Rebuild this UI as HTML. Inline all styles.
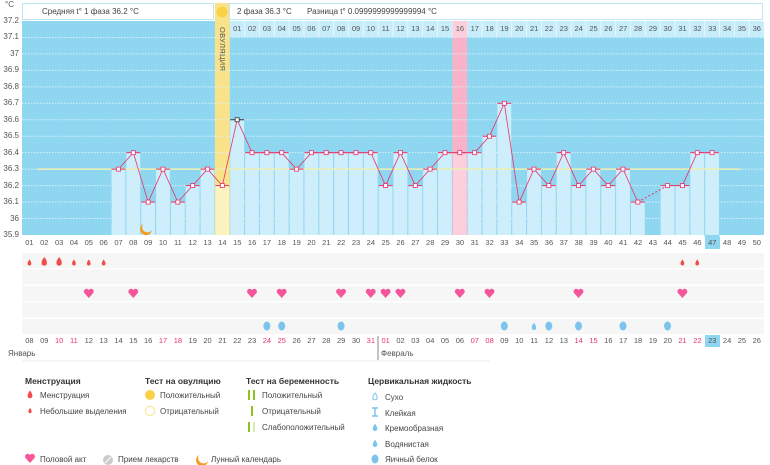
<!DOCTYPE html>
<html><head><meta charset="utf-8"><style>
*{margin:0;padding:0;box-sizing:border-box}
body{width:770px;height:465px;background:#fff;font-family:"Liberation Sans","DejaVu Sans",sans-serif;font-size:8px;color:#444;position:relative;overflow:hidden}
.a{position:absolute;white-space:nowrap}
.row{position:absolute;left:22px;width:742px;display:flex;height:12px;line-height:12px}
.row span{flex:1;text-align:center;font-size:7.5px;color:#555}
.r{color:#e8336b!important}
.hl{background:#8fd6f0}
.yl{position:absolute;left:0;width:19px;text-align:right;font-size:8px;color:#555;line-height:10px}
h4{position:absolute;font-size:8.5px;font-weight:bold;color:#333}
</style></head><body>
<svg id="s" width="770" height="465" style="position:absolute;left:0;top:0"></svg>
<div class="a" style="left:5px;top:0px;font-size:8px;color:#555">°C</div>
<div class="a" style="left:22px;top:3px;width:192px;height:17px;border:1px solid #bfe6f5;background:#fff"></div>
<div class="a" style="left:229px;top:3px;width:534px;height:17px;border:1px solid #bfe6f5;background:#fff"></div>
<div class="a" style="left:42px;top:7px;font-size:8px">Средняя t° 1 фаза 36.2 °C</div>
<div class="a" style="left:237px;top:7px;font-size:8px">2 фаза 36.3 °C</div>
<div class="a" style="left:307px;top:7px;font-size:8px">Разница t° 0.0999999999999994 °C</div>
<div class="a" style="left:216px;top:24px;width:14px;height:60px;"><div style="transform:rotate(90deg);transform-origin:0 0;position:absolute;left:11px;top:3px;font-size:7.5px;color:#555;letter-spacing:0.3px">ОВУЛЯЦИЯ</div></div>
<div class="yl" style="top:16px">37.2</div><div class="yl" style="top:32px">37.1</div><div class="yl" style="top:49px">37</div><div class="yl" style="top:65px">36.9</div><div class="yl" style="top:82px">36.8</div><div class="yl" style="top:98px">36.7</div><div class="yl" style="top:115px">36.6</div><div class="yl" style="top:131px">36.5</div><div class="yl" style="top:148px">36.4</div><div class="yl" style="top:164px">36.3</div><div class="yl" style="top:181px">36.2</div><div class="yl" style="top:197px">36.1</div><div class="yl" style="top:214px">36</div><div class="yl" style="top:230px">35.9</div>
<div class="row" style="top:23px"><span></span><span></span><span></span><span></span><span></span><span></span><span></span><span></span><span></span><span></span><span></span><span></span><span></span><span></span><span>01</span><span>02</span><span>03</span><span>04</span><span>05</span><span>06</span><span>07</span><span>08</span><span>09</span><span>10</span><span>11</span><span>12</span><span>13</span><span>14</span><span>15</span><span>16</span><span>17</span><span>18</span><span>19</span><span>20</span><span>21</span><span>22</span><span>23</span><span>24</span><span>25</span><span>26</span><span>27</span><span>28</span><span>29</span><span>30</span><span>31</span><span>32</span><span>33</span><span>34</span><span>35</span><span>36</span></div>
<div class="row" style="top:237px"><span>01</span><span>02</span><span>03</span><span>04</span><span>05</span><span>06</span><span>07</span><span>08</span><span>09</span><span>10</span><span>11</span><span>12</span><span>13</span><span>14</span><span>15</span><span>16</span><span>17</span><span>18</span><span>19</span><span>20</span><span>21</span><span>22</span><span>23</span><span>24</span><span>25</span><span>26</span><span>27</span><span>28</span><span>29</span><span>30</span><span>31</span><span>32</span><span>33</span><span>34</span><span>35</span><span>36</span><span>37</span><span>38</span><span>39</span><span>40</span><span>41</span><span>42</span><span>43</span><span>44</span><span>45</span><span>46</span><span class="hl">47</span><span>48</span><span>49</span><span>50</span></div>
<div class="row" style="top:335px"><span>08</span><span>09</span><span class="r">10</span><span class="r">11</span><span>12</span><span>13</span><span>14</span><span>15</span><span>16</span><span class="r">17</span><span class="r">18</span><span>19</span><span>20</span><span>21</span><span>22</span><span>23</span><span class="r">24</span><span class="r">25</span><span>26</span><span>27</span><span>28</span><span>29</span><span>30</span><span class="r">31</span><span class="r">01</span><span>02</span><span>03</span><span>04</span><span>05</span><span>06</span><span class="r">07</span><span class="r">08</span><span>09</span><span>10</span><span>11</span><span>12</span><span>13</span><span class="r">14</span><span class="r">15</span><span>16</span><span>17</span><span>18</span><span>19</span><span>20</span><span class="r">21</span><span class="r">22</span><span class="hl">23</span><span>24</span><span>25</span><span>26</span></div>
<div class="a" style="left:8px;top:349px;font-size:8px;color:#555">Январь</div>
<div class="a" style="left:381px;top:349px;font-size:8px;color:#555">Февраль</div>
<h4 style="left:25px;top:376px">Менструация</h4>
<h4 style="left:145px;top:376px">Тест на овуляцию</h4>
<h4 style="left:246px;top:376px">Тест на беременность</h4>
<h4 style="left:368px;top:376px">Цервикальная жидкость</h4>
<div class="a" style="left:40px;top:391px">Менструация</div>
<div class="a" style="left:40px;top:407px">Небольшие выделения</div>
<div class="a" style="left:160px;top:391px">Положительный</div>
<div class="a" style="left:160px;top:407px">Отрицательный</div>
<div class="a" style="left:262px;top:391px">Положительный</div>
<div class="a" style="left:262px;top:407px">Отрицательный</div>
<div class="a" style="left:262px;top:423px">Слабоположительный</div>
<div class="a" style="left:385px;top:393px">Сухо</div>
<div class="a" style="left:385px;top:409px">Клейкая</div>
<div class="a" style="left:385px;top:424px">Кремообразная</div>
<div class="a" style="left:385px;top:440px">Водянистая</div>
<div class="a" style="left:385px;top:455px">Яичный белок</div>
<div class="a" style="left:40px;top:455px">Половой акт</div>
<div class="a" style="left:118px;top:455px">Прием лекарств</div>
<div class="a" style="left:211px;top:455px">Лунный календарь</div>
<script>
var s=document.getElementById('s'),h='';
var W=742/50;function cx(i){return 22+(i-0.5)*W}
function y(t){return 21+(37.2-t)/0.1*16.46}
h+='<rect x="22" y="21" width="742" height="214" fill="#8fd6f0"/>';
h+='<rect x="'+(22+13*W)+'" y="3" width="'+W+'" height="232" fill="#f9e38a"/>';
h+='<rect x="'+(22+29*W)+'" y="21" width="'+W+'" height="214" fill="#f9b3c8"/>';
h+='<rect x="'+(22+14*W)+'" y="21" width="'+(36*W)+'" height="16" fill="#c7ecfa"/>';
for(var i=15;i<=50;i++)h+='<line x1="'+(22+i*W)+'" y1="21" x2="'+(22+i*W)+'" y2="37" stroke="#e6f6fd" stroke-width="1"/>';
h+='<rect x="'+(22+29*W)+'" y="21" width="'+W+'" height="16" fill="#fbd0dc"/>';
for(var k=1;k<13;k++){var yy=21+k*16.46;h+='<line x1="22" x2="764" y1="'+yy+'" y2="'+yy+'" stroke="#d8f1fb" stroke-dasharray="1.5,1.5" stroke-width="1"/>';}
var T={7:36.3,8:36.4,9:36.1,10:36.3,11:36.1,12:36.2,13:36.3,14:36.2,15:36.6,16:36.4,17:36.4,18:36.4,19:36.3,20:36.4,21:36.4,22:36.4,23:36.4,24:36.4,25:36.2,26:36.4,27:36.2,28:36.3,29:36.4,30:36.4,31:36.4,32:36.5,33:36.7,34:36.1,35:36.3,36:36.2,37:36.4,38:36.2,39:36.3,40:36.2,41:36.3,42:36.1,44:36.2,45:36.2,46:36.4,47:36.4};
for(var i in T){i=+i;var c=i==14?'#fdf3c0':'#cdeefa';if(i==30)c='#fbd0dc';h+='<rect x="'+(22+(i-1)*W+0.5)+'" y="'+y(T[i])+'" width="'+(W-1)+'" height="'+(235-y(T[i]))+'" fill="'+c+'"/>';}
h+='<line x1="37" x2="741" y1="'+y(36.3)+'" y2="'+y(36.3)+'" stroke="#eef0b0" stroke-width="1.5"/>';
h+='<line x1="'+cx(42)+'" y1="'+y(36.1)+'" x2="'+cx(44)+'" y2="'+y(36.2)+'" stroke="#e8336b" stroke-dasharray="2,2"/>';
var seg=[];for(var i=7;i<=42;i++)seg.push(cx(i)+','+y(T[i]));h+='<polyline points="'+seg.join(' ')+'" fill="none" stroke="#e8336b" stroke-width="0.8"/>';
seg=[];for(var i=44;i<=47;i++)seg.push(cx(i)+','+y(T[i]));h+='<polyline points="'+seg.join(' ')+'" fill="none" stroke="#e8336b" stroke-width="0.8"/>';
for(var i in T){i=+i;var x=cx(i),yy=y(T[i]),col=i==15?'#333':'#e8336b';h+='<line x1="'+(x-7)+'" x2="'+(x+7)+'" y1="'+yy+'" y2="'+yy+'" stroke="'+col+'" stroke-width="1"/><rect x="'+(x-2)+'" y="'+(yy-2)+'" width="4" height="4" fill="#fff" stroke="'+col+'" stroke-width="0.8"/>';}
h+='<circle cx="222" cy="12" r="5.5" fill="#fbd245"/>';
h+='<path d="M143,224 a6,6 0 1 0 9,6 a5,5 0 0 1 -9,-6z" fill="#f59a1b"/>';
h+='<rect x="'+(22+46*W)+'" y="235" width="'+W+'" height="2" fill="#8fd6f0"/>';
for(var r=0;r<5;r++)h+='<rect x="22" y="'+(253+r*16.5)+'" width="742" height="15" fill="#f6f6f6"/>';
h+='<line x1="22" x2="490" y1="361" y2="361" stroke="#eee"/><line x1="378" x2="378" y1="336" y2="360" stroke="#888"/>';
function drop(x,yc,sz,c){return '<path d="M'+x+','+(yc-sz*1.4)+' C'+(x+sz)+','+(yc-sz*0.2)+' '+(x+sz)+','+(yc+sz)+' '+x+','+(yc+sz)+' C'+(x-sz)+','+(yc+sz)+' '+(x-sz)+','+(yc-sz*0.2)+' '+x+','+(yc-sz*1.4)+'z" fill="'+c+'"/>';}
function heart(x,yc,c){return '<path d="M'+x+','+(yc+5)+' L'+(x-4.5)+','+(yc)+' A2.5,2.5 0 0 1 '+x+','+(yc-3)+' A2.5,2.5 0 0 1 '+(x+4.5)+','+yc+' Z" fill="'+c+'"/>';}
[1,4,5,6,45,46].forEach(function(i){h+=drop(cx(i),263,2.5,'#f24b4b')});[2,3].forEach(function(i){h+=drop(cx(i),262,3.6,'#f24b4b')});
[5,8,16,18,22,24,25,26,30,32,38,45].forEach(function(i){h+=heart(cx(i),293,'#f5569b')});
[17,18,22,33,36,38,41,44].forEach(function(i){h+='<ellipse cx="'+cx(i)+'" cy="326" rx="3.5" ry="4.5" fill="#7cc4ee"/>'});h+=drop(cx(35),327,3,'#7cc4ee');
h+=drop(30,395,3.2,'#f24b4b')+drop(30,411,2.2,'#f24b4b');
h+='<circle cx="150" cy="395" r="5" fill="#fbd245"/><circle cx="150" cy="411" r="4.6" fill="none" stroke="#fbe38a" stroke-width="1"/>';
h+='<rect x="248" y="390" width="2" height="10" fill="#8dc21f"/><rect x="253" y="390" width="2" height="10" fill="#8dc21f"/><rect x="251" y="406" width="2" height="10" fill="#8dc21f"/><rect x="248" y="422" width="2" height="10" fill="#8dc21f"/><rect x="253" y="422" width="2" height="10" fill="#d9ecb0"/>';
h+=drop(375,397,2.8,'none').replace('fill="none"','fill="none" stroke="#7cc4ee"');
h+='<path d="M372,408 h6 M372,416 h6 M375,408 v8" stroke="#7cc4ee" stroke-width="1.5"/>';
h+=drop(375,428,3,'#7cc4ee')+drop(375,444,3,'#7cc4ee')+'<ellipse cx="375" cy="459" rx="3.5" ry="4.5" fill="#7cc4ee"/>';
h+=heart(30,458,'#f5569b')+'<circle cx="108" cy="460" r="5" fill="#ccc"/><line x1="105" y1="463" x2="111" y2="457" stroke="#fff"/>';
h+='<path d="M199,455 a6,6 0 1 0 9,6 a5,5 0 0 1 -9,-6z" fill="#f59a1b"/>';
s.innerHTML=h;
</script>
</body></html>
